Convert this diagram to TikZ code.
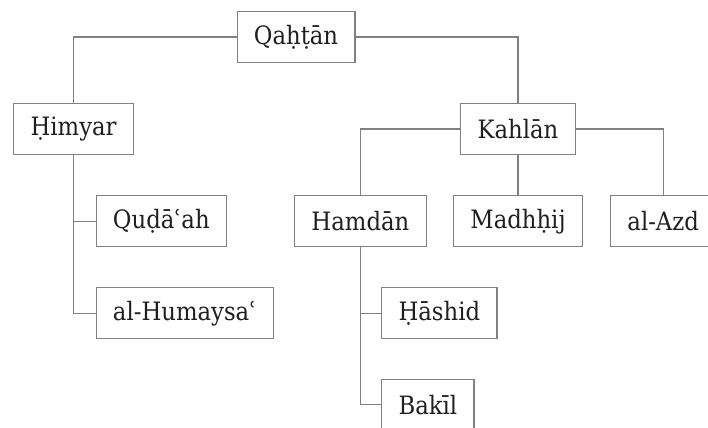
\documentclass[tikz,border=0pt]{standalone}
\usepackage{fontspec}
\setmainfont{DejaVu Serif Condensed}
\usetikzlibrary{positioning}

\begin{document}
\begin{tikzpicture}[
        tribe/.style={rectangle, draw=linegray, line width=0.8pt, fill=white, text=textblack, minimum height=1.275cm, inner xsep=0.42cm, font=\fontsize{18}{22}\selectfont},
        branch/.style={draw=linegray, line width=0.8pt},
    ]
        \definecolor{linegray}{RGB}{128,128,128}
        \definecolor{textblack}{RGB}{34,30,31}
        \useasboundingbox (0,0) rectangle (17.7,10.675);
        \clip (0,0) rectangle (17.7,10.675);

        % top of the tree
        \node[tribe] (qahtan) at (7.40, 9.75) {Qaḥṭān};
        \node[tribe] (himyar) at (1.84, 7.45) {Ḥimyar};
        \node[tribe] (kahlan) at (12.95, 7.45) {Kahlān};
        \draw[branch] (qahtan.west) -| (himyar.north);
        \draw[branch] (qahtan.east) -| (kahlan.north);

        % Himyar branch
        \node[tribe, anchor=west] (qudaah) at (2.39, 5.14) {Quḍāʿah};
        \node[tribe, anchor=west] (humaysa) at (2.39, 2.84) {al-Humaysaʿ};
        \draw[branch] (himyar.south) |- (qudaah.west);
        \draw[branch] (himyar.south) |- (humaysa.west);

        % Kahlan branch
        \node[tribe] (hamdan) at (9.01, 5.14) {Hamdān};
        \node[tribe] (madhhij) at (12.95, 5.14) {Madhḥij};
        \node[tribe] (azd) at (16.58, 5.14) {al-Azd};
        \draw[branch] (kahlan.west) -| (hamdan.north);
        \draw[branch] (kahlan.south) -- (madhhij.north);
        \draw[branch] (kahlan.east) -| (azd.north);

        % Hamdan branch
        \node[tribe, anchor=west] (hashid) at (9.53, 2.84) {Ḥāshid};
        \node[tribe, anchor=west] (bakil) at (9.53, 0.555) {Bakīl};
        \draw[branch] (hamdan.south) |- (hashid.west);
        \draw[branch] (hamdan.south) |- (bakil.west);
    \end{tikzpicture}
\end{document}
